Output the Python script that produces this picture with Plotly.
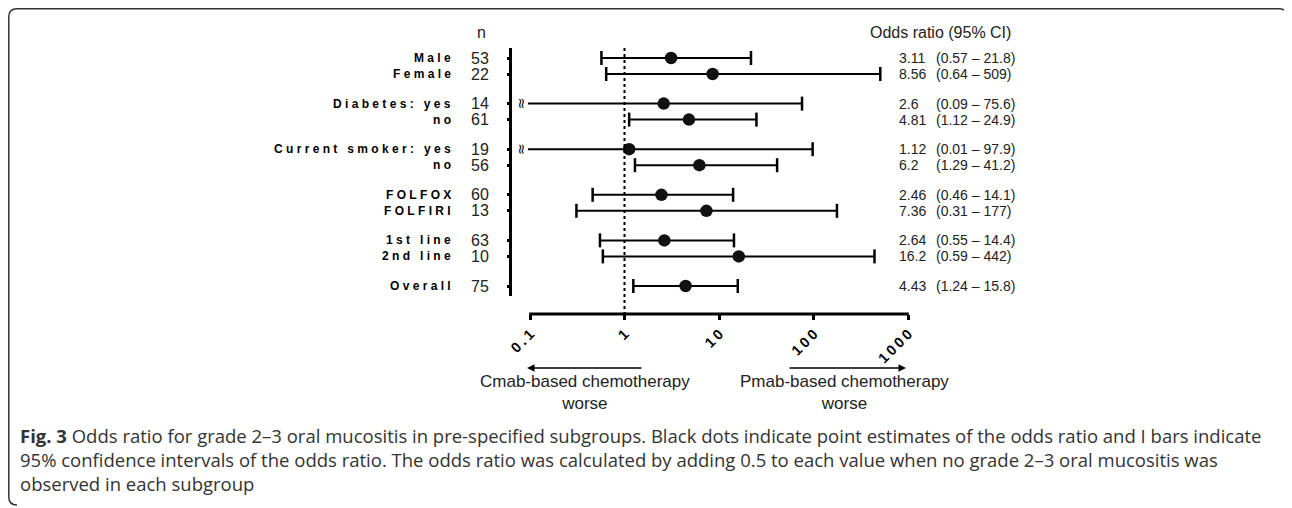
import numpy as np
import plotly.graph_objects as go

# ---------------- data ----------------
subgroups = ["Male", "Female", "Diabetes: yes", "no", "Current smoker: yes", "no",
             "FOLFOX", "FOLFIRI", "1st line", "2nd line", "Overall"]
group_of_row = [0, 0, 1, 1, 2, 2, 3, 3, 4, 4, 5]
n_patients = [53, 22, 14, 61, 19, 56, 60, 13, 63, 10, 75]
odds_ratio = [3.11, 8.56, 2.6, 4.81, 1.12, 6.2, 2.46, 7.36, 2.64, 16.2, 4.43]
ci_lower = [0.57, 0.64, 0.09, 1.12, 0.01, 1.29, 0.46, 0.31, 0.55, 0.59, 1.24]
ci_upper = [21.8, 509, 75.6, 24.9, 97.9, 41.2, 14.1, 177, 14.4, 442, 15.8]
tick_values = [0.1, 1, 10, 100, 1000]
tick_labels = ["0.1", "1", "10", "100", "1000"]
left_arrow_text = "Cmab-based chemotherapy<br>worse"
right_arrow_text = "Pmab-based chemotherapy<br>worse"
caption_lines = [
    "<b>Fig. 3</b> Odds ratio for grade 2\u20133 oral mucositis in pre-specified subgroups. Black dots indicate point estimates of the odds ratio and I bars indicate",
    "95% confidence intervals of the odds ratio. The odds ratio was calculated by adding 0.5 to each value when no grade 2\u20133 oral mucositis was",
    "observed in each subgroup",
]

# ---------------- layout geometry (page pixel coordinates) ----------------
OFF = 8                                       # page body margin
W, H = 1292 - OFF, 508 - OFF
PL, PR, PT, PB = 500, 920, 40, 314           # plot area, page px
XMIN, XMAX = -1.3175, 3.127                   # log10 range
GROUP_STEP = 2.85
YTOP, YBOT = -1.125, 16.0
CLIP = 10 ** (-1 - 2 / 94.5)                  # truncation point of lines


def px_x(px):
    return (px - PL) / (PR - PL)


def px_y(py):
    return (PB - py) / (PB - PT)


def xp(v):
    return (np.log10(v) - XMIN) / (XMAX - XMIN)


def spaced(s, sep="\u00a0"):
    return sep.join(list(s))


# row positions
row_y = []
counts = {}
for g in group_of_row:
    k = counts.get(g, 0)
    row_y.append(g * GROUP_STEP + k)
    counts[g] = k + 1

fig = go.Figure()

# CI lines and caps
lx, ly = [], []
cap_x, cap_y = [], []
trunc_rows = []
for i in range(len(subgroups)):
    lo = ci_lower[i]
    if lo < tick_values[0]:
        start = CLIP
        trunc_rows.append(i)
    else:
        start = lo
        cap_x.append(lo)
        cap_y.append(row_y[i])
    lx += [start, ci_upper[i], None]
    ly += [row_y[i], row_y[i], None]
    cap_x.append(ci_upper[i])
    cap_y.append(row_y[i])

fig.add_trace(go.Scatter(x=lx, y=ly, mode="lines", line=dict(color="black", width=2),
                         hoverinfo="skip", showlegend=False, cliponaxis=False))
fig.add_trace(go.Scatter(x=cap_x, y=cap_y, mode="markers",
                         marker=dict(symbol="line-ns", size=10, line=dict(width=2.5, color="black")),
                         hoverinfo="skip", showlegend=False, cliponaxis=False))
fig.add_trace(go.Scatter(x=odds_ratio, y=row_y, mode="markers",
                         marker=dict(symbol="circle", size=12.5, color="#111111"),
                         showlegend=False, cliponaxis=False))

shapes = []
# left vertical axis line
shapes.append(dict(type="line", xref="paper", yref="y", x0=px_x(510.5), x1=px_x(510.5),
                   y0=-0.625, y1=14.875, line=dict(color="black", width=3)))
# bottom axis line
shapes.append(dict(type="line", xref="paper", yref="paper", x0=xp(0.1) - 0.002, x1=xp(1000) + 0.002,
                   y0=px_y(314), y1=px_y(314), line=dict(color="black", width=3)))
# dotted reference line at OR = 1
shapes.append(dict(type="line", xref="paper", yref="y", x0=xp(1), x1=xp(1),
                   y0=-0.625, y1=YBOT, line=dict(color="black", width=2, dash="dot")))


# figure frame (top and left edges with rounded corners)
def P(px, py):
    return f"{px_x(px):.5f},{px_y(py):.5f}"


frame_top = f"M {P(8.8, 17)} Q {P(8.8, 8.8)} {P(17, 8.8)} L {P(1279, 8.8)} Q {P(1287, 8.8)} {P(1287, 16)}"
frame_left = f"M {P(8.8, 17)} L {P(8.8, 497)} Q {P(8.8, 505)} {P(17, 505)}"
for pth in (frame_top, frame_left):
    shapes.append(dict(type="path", xref="paper", yref="paper", path=pth,
                       line=dict(color="#333333", width=1.5)))

ann = []
lab_font = dict(family="Liberation Sans, Arial", size=12, color="black", weight="bold")
num_font = dict(family="Liberation Sans, Arial", size=16, color="#222222")
or_font = dict(family="Liberation Sans, Arial", size=14, color="#222222")
arr_font = dict(family="Liberation Sans, Arial", size=17, color="#222222")
for i in range(len(subgroups)):
    ann.append(dict(x=px_x(453), y=row_y[i], xref="paper", yref="y", text=spaced(subgroups[i]),
                    xanchor="right", yanchor="middle", showarrow=False, font=lab_font))
    ann.append(dict(x=px_x(491), y=row_y[i], xref="paper", yref="y", text=str(n_patients[i]),
                    xanchor="right", yanchor="middle", showarrow=False, font=num_font))
    ann.append(dict(x=px_x(897), y=row_y[i], xref="paper", yref="y", text=f"{odds_ratio[i]:g}",
                    xanchor="left", yanchor="middle", showarrow=False, font=or_font))
    ann.append(dict(x=px_x(934), y=row_y[i], xref="paper", yref="y",
                    text=f"({ci_lower[i]:g} \u2013 {ci_upper[i]:g})",
                    xanchor="left", yanchor="middle", showarrow=False, font=or_font))
for i in trunc_rows:
    ann.append(dict(x=px_x(522), y=row_y[i], xref="paper", yref="y", text="\u2248",
                    textangle=90, xanchor="center", yanchor="middle", showarrow=False,
                    font=dict(family="DejaVu Sans", size=14, color="black")))
# headers
ann.append(dict(x=px_x(481), y=px_y(33), xref="paper", yref="paper", text="n",
                xanchor="center", yanchor="middle", showarrow=False, font=num_font))
ann.append(dict(x=px_x(868), y=px_y(33), xref="paper", yref="paper", text="Odds ratio (95% CI)",
                xanchor="left", yanchor="middle", showarrow=False, font=num_font))
# arrows
ann.append(dict(x=px_x(527), y=px_y(368), xref="paper", yref="paper", text="", showarrow=True,
                ax=116, ay=0, arrowhead=2, arrowsize=1, arrowwidth=1.5, arrowcolor="black"))
ann.append(dict(x=px_x(906), y=px_y(368), xref="paper", yref="paper", text="", showarrow=True,
                ax=-118, ay=0, arrowhead=2, arrowsize=1, arrowwidth=1.5, arrowcolor="black"))
ann.append(dict(x=px_x(585), y=px_y(392), xref="paper", yref="paper", text=left_arrow_text,
                xanchor="center", yanchor="middle", showarrow=False, font=arr_font))
ann.append(dict(x=px_x(844), y=px_y(392), xref="paper", yref="paper", text=right_arrow_text,
                xanchor="center", yanchor="middle", showarrow=False, font=arr_font))
# caption (one block)
cap_font = dict(family="Open Sans, Noto Sans", size=18.5, color="#333333")
ann.append(dict(x=px_x(18), y=px_y(459), xref="paper", yref="paper", text="<br>".join(caption_lines),
                xanchor="left", yanchor="middle", align="left", showarrow=False, font=cap_font))

fig.update_layout(
    width=W, height=H,
    margin=dict(l=PL - OFF, r=W - (PR - OFF), t=PT - OFF, b=H - (PB - OFF), pad=0),
    paper_bgcolor="white", plot_bgcolor="white",
    xaxis=dict(type="log", range=[XMIN, XMAX], showgrid=False, zeroline=False, showline=False,
               tickvals=tick_values, ticktext=[spaced(t, "\u2009") for t in tick_labels],
               tickangle=-45, ticks="outside", ticklen=5, tickwidth=3, tickcolor="black",
               tickfont=dict(family="Liberation Sans, Arial", size=14.5, color="black", weight="bold")),
    yaxis=dict(range=[YBOT, YTOP], showgrid=False, zeroline=False, showline=False,
               anchor="free", position=px_x(510.5),
               tickvals=row_y, ticks="outside", ticklen=4, tickwidth=3, tickcolor="black",
               showticklabels=False),
    shapes=shapes, annotations=ann, showlegend=False,
)

fig.write_html("out.html")
